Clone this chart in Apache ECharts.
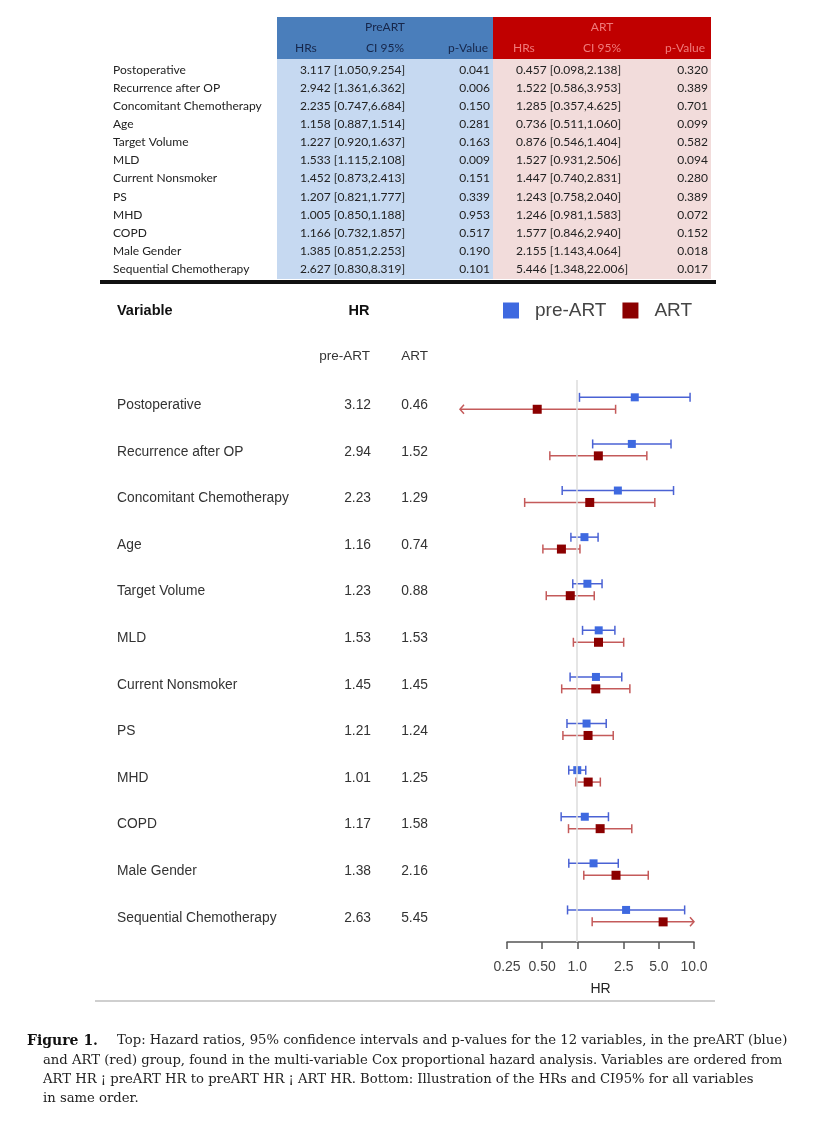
<!DOCTYPE html>
<html><head><meta charset="utf-8">
<script src="https://cdn.jsdelivr.net/npm/echarts@6/dist/echarts.min.js"></script>
<style>html,body{margin:0;padding:0;background:#fff}#c{width:822px;height:1125px}</style>
</head><body><div id="c"></div>
<script>
const variables = ['Postoperative','Recurrence after OP','Concomitant Chemotherapy','Age','Target Volume','MLD','Current Nonsmoker','PS','MHD','COPD','Male Gender','Sequential Chemotherapy'];
const preHR = [3.117,2.942,2.235,1.158,1.227,1.533,1.452,1.207,1.005,1.166,1.385,2.627];
const preLo = [1.050,1.361,0.747,0.887,0.920,1.115,0.873,0.821,0.850,0.732,0.851,0.830];
const preHi = [9.254,6.362,6.684,1.514,1.637,2.108,2.413,1.777,1.188,1.857,2.253,8.319];
const preP  = [0.041,0.006,0.150,0.281,0.163,0.009,0.151,0.339,0.953,0.517,0.190,0.101];
const artHR = [0.457,1.522,1.285,0.736,0.876,1.527,1.447,1.243,1.246,1.577,2.155,5.446];
const artLo = [0.098,0.586,0.357,0.511,0.546,0.931,0.740,0.758,0.981,0.846,1.143,1.348];
const artHi = [2.138,3.953,4.625,1.060,1.404,2.506,2.831,2.040,1.583,2.940,4.064,22.006];
const artP  = [0.320,0.389,0.701,0.099,0.582,0.094,0.280,0.389,0.072,0.152,0.018,0.017];
const preLabel = ['3.12','2.94','2.23','1.16','1.23','1.53','1.45','1.21','1.01','1.17','1.38','2.63'];
const artLabel = ['0.46','1.52','1.29','0.74','0.88','1.53','1.45','1.24','1.25','1.58','2.16','5.45'];
const xTicks = [0.25, 0.5, 1, 2.5, 5, 10];
const xTickLabels = ['0.25','0.50','1.0','2.5','5.0','10.0'];
const clipRange = [0.1, 10];

const L = Math.log10;
const TF = "Lato, 'Liberation Sans', sans-serif";
const AF = "'Liberation Sans', Arial, sans-serif";
const SF = "'DejaVu Serif', 'Liberation Serif', serif";

const BLUE = '#3e69e0', BLUE_LINE = '#4a62d4';
const RED = '#8b0000', RED_LINE = '#c45a5a';

function buildData(hr, lo, hi, off) {
  return hr.map((h, i) => [
    L(h), L(Math.max(lo[i], clipRange[0])), L(Math.min(hi[i], clipRange[1])), i + off,
    lo[i] < clipRange[0] ? 1 : 0, hi[i] > clipRange[1] ? 1 : 0
  ]);
}

function makeRender(markColor, lineColor, box) {
  return function (params, api) {
    const y = api.value(3);
    const pM = api.coord([api.value(0), y]);
    const pL = api.coord([api.value(1), y]);
    const pR = api.coord([api.value(2), y]);
    const ls = { stroke: lineColor, lineWidth: 1.5, fill: null };
    const ch = [{ type: 'line', shape: { x1: pL[0], y1: pL[1], x2: pR[0], y2: pR[1] }, style: ls }];
    const c = 4.5;
    if (api.value(4)) ch.push({ type: 'polyline', shape: { points: [[pL[0] + 4, pL[1] - c], [pL[0], pL[1]], [pL[0] + 4, pL[1] + c]] }, style: ls });
    else ch.push({ type: 'line', shape: { x1: pL[0], y1: pL[1] - c, x2: pL[0], y2: pL[1] + c }, style: ls });
    if (api.value(5)) ch.push({ type: 'polyline', shape: { points: [[pR[0] - 4, pR[1] - c], [pR[0], pR[1]], [pR[0] - 4, pR[1] + c]] }, style: ls });
    else ch.push({ type: 'line', shape: { x1: pR[0], y1: pR[1] - c, x2: pR[0], y2: pR[1] + c }, style: ls });
    ch.push({ type: 'rect', shape: { x: pM[0] - box / 2, y: pM[1] - box / 2, width: box, height: box }, style: { fill: markColor } });
    return { type: 'group', children: ch };
  };
}

// Table graphics
const g = [];
const rowY0 = 70, rowH = 18.1;
g.push({ type: 'rect', shape: { x: 277, y: 17, width: 216, height: 42 }, style: { fill: '#4a7ebb' } });
g.push({ type: 'rect', shape: { x: 493, y: 17, width: 218, height: 42 }, style: { fill: '#c00000' } });
g.push({ type: 'rect', shape: { x: 277, y: 59, width: 216, height: 220 }, style: { fill: '#c6d9f1' } });
g.push({ type: 'rect', shape: { x: 493, y: 59, width: 218, height: 220 }, style: { fill: '#f2dcdb' } });
g.push({ type: 'rect', shape: { x: 100, y: 280, width: 616, height: 4 }, style: { fill: '#111' } });
g.push({ type: 'rect', shape: { x: 95, y: 1000, width: 620, height: 2 }, style: { fill: '#cfcfcf' } });
function T(text, x, y, font, fill, align) {
  g.push({ type: 'text', x: x, y: y, style: { text: text, font: font, fill: fill, align: align || 'left', verticalAlign: 'middle' } });
}
const hf = '12px ' + TF;
const hBlue = '#16264a', hRed = '#f07a7a';
T('PreART', 385, 27, hf, hBlue, 'center');
T('HRs', 295, 48, hf, hBlue, 'left');
T('CI 95%', 385, 48, hf, hBlue, 'center');
T('p-Value', 488, 48, hf, hBlue, 'right');
T('ART', 602, 27, hf, hRed, 'center');
T('HRs', 513, 48, hf, hRed, 'left');
T('CI 95%', 602, 48, hf, hRed, 'center');
T('p-Value', 705, 48, hf, hRed, 'right');
const f3 = v => v.toFixed(3);
variables.forEach((v, i) => {
  const y = rowY0 + i * rowH;
  T(v, 113, y, hf, '#222');
  T(f3(preHR[i]) + ' [' + f3(preLo[i]) + ',' + f3(preHi[i]) + ']', 300, y, hf, '#222');
  T(f3(preP[i]), 490, y, hf, '#222', 'right');
  T(f3(artHR[i]) + ' [' + f3(artLo[i]) + ',' + f3(artHi[i]) + ']', 516, y, hf, '#222');
  T(f3(artP[i]), 708, y, hf, '#222', 'right');
});
// Forest header
T('Variable', 117, 311, 'bold 14.5px ' + AF, '#111');
T('HR', 359, 311, 'bold 14.5px ' + AF, '#111', 'center');
T('pre-ART', 370, 356, '13.5px ' + AF, '#333', 'right');
T('ART', 428, 356, '13.5px ' + AF, '#333', 'right');
// Caption
const cf = '13.2px ' + SF;
T('Figure 1.', 27, 1041, 'bold 14px ' + SF, '#111');
T('Top: Hazard ratios, 95% confidence intervals and p-values for the 12 variables, in the preART (blue)', 117, 1041, cf, '#222');
T('and ART (red) group, found in the multi-variable Cox proportional hazard analysis. Variables are ordered from', 43, 1061, cf, '#222');
T('ART HR ¡ preART HR to preART HR ¡ ART HR. Bottom: Illustration of the HRs and CI95% for all variables', 43, 1080, cf, '#222');
T('in same order.', 43, 1099, cf, '#222');

const chart = echarts.init(document.getElementById('c'), null, { renderer: 'canvas' });
chart.setOption({
  animation: false,
  backgroundColor: '#fff',
  legend: {
    left: 503, top: 301, padding: 0, itemWidth: 16, itemHeight: 16, itemGap: 16, icon: 'rect',
    data: ['pre-ART', 'ART'],
    textStyle: { fontSize: 19, color: '#444', fontFamily: AF, padding: [0, 0, 0, 11] }
  },
  grid: [
    { left: 460, width: 234, top: 380, height: 562 },
    { left: 507, width: 187, top: 941, height: 1 }
  ],
  xAxis: [
    { gridIndex: 0, type: 'value', min: L(clipRange[0]), max: L(clipRange[1]), show: false },
    {
      gridIndex: 1, type: 'value', min: L(xTicks[0]), max: L(xTicks[xTicks.length - 1]),
      axisLine: { show: true, lineStyle: { color: '#555', width: 1.5 } },
      axisTick: { show: true, length: 7, customValues: xTicks.map(L), lineStyle: { color: '#555', width: 1.5 } },
      axisLabel: {
        customValues: xTicks.map(L), margin: 18, fontSize: 14, color: '#444', fontFamily: AF,
        formatter: v => { let b = 0; xTicks.forEach((t, k) => { if (Math.abs(L(t) - v) < Math.abs(L(xTicks[b]) - v)) b = k; }); return xTickLabels[b]; }
      },
      splitLine: { show: false },
      name: 'HR', nameLocation: 'middle', nameGap: 40,
      nameTextStyle: { fontSize: 14, color: '#222', fontFamily: AF }
    }
  ],
  yAxis: [
    { gridIndex: 0, type: 'value', inverse: true, min: -0.5, max: 11.56, show: false },
    { gridIndex: 1, type: 'value', show: false }
  ],
  graphic: g,
  series: [
    {
      name: 'ref', type: 'line', data: [], xAxisIndex: 0, yAxisIndex: 0, z: 1, silent: true,
      markLine: { symbol: 'none', silent: true, label: { show: false },
        lineStyle: { color: '#dcdcdc', width: 1.5, type: 'solid' }, data: [{ xAxis: 0 }] }
    },
    {
      name: 'pre-ART', type: 'custom', xAxisIndex: 0, yAxisIndex: 0, z: 3, clip: false,
      itemStyle: { color: BLUE }, encode: { x: [0, 1, 2], y: 3 },
      data: buildData(preHR, preLo, preHi, -0.128), renderItem: makeRender(BLUE, BLUE_LINE, 8)
    },
    {
      name: 'ART', type: 'custom', xAxisIndex: 0, yAxisIndex: 0, z: 3, clip: false,
      itemStyle: { color: RED }, encode: { x: [0, 1, 2], y: 3 },
      data: buildData(artHR, artLo, artHi, 0.128), renderItem: makeRender(RED, RED_LINE, 9)
    },
    {
      name: 'rowLabels', type: 'custom', xAxisIndex: 0, yAxisIndex: 0, z: 3, clip: false, silent: true,
      encode: { y: 0 },
      data: variables.map((v, i) => [i + 0.04]),
      renderItem: function (params, api) {
        const i = params.dataIndex;
        const p = api.coord([0, api.value(0)]);
        const st = (t, x, al) => ({ type: 'text', x: x, y: p[1], style: { text: t, font: '13.8px ' + AF, fill: '#333', align: al, verticalAlign: 'middle' } });
        return { type: 'group', children: [st(variables[i], 117, 'left'), st(preLabel[i], 371, 'right'), st(artLabel[i], 428, 'right')] };
      }
    }
  ]
});
</script></body></html>
